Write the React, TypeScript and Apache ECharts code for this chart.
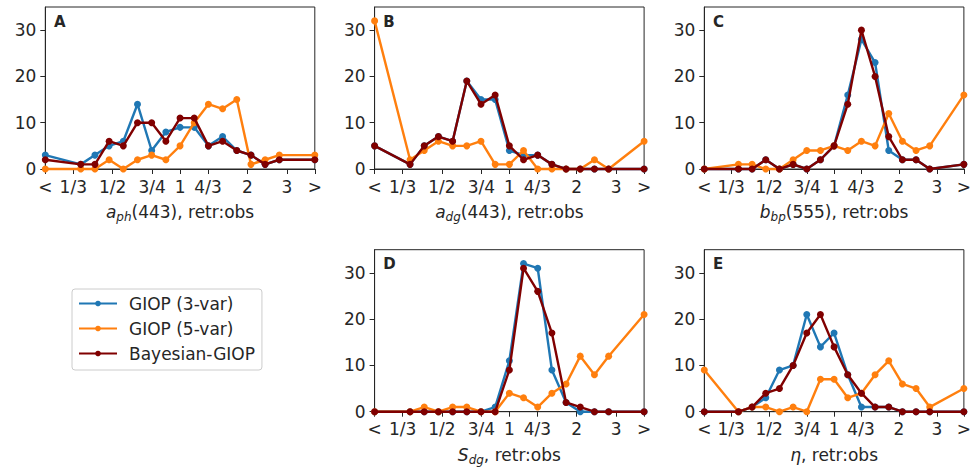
import React, { useEffect, useRef } from 'react';
import * as echarts from 'echarts';

// x-axis ticks (ratio retrieved : observed) and their labels
const tickRatios = [1 / 4, 1 / 3, 1 / 2, 3 / 4, 1, 4 / 3, 2, 3, 4];
const tickLabels = ['<', '1/3', '1/2', '3/4', '1', '4/3', '2', '3', '>'];
// bin centres in units of ln(4)/9.5; the outer bins are "<" and ">"
const binIndex = [-9.5, -7, -6, -5, -4, -3, -2, -1, 0, 1, 2, 3, 4, 5, 6, 7, 9.5];
const yTicks = [0, 10, 20, 30];

const seriesNames = ['GIOP (3-var)', 'GIOP (5-var)', 'Bayesian-GIOP'];
const seriesColors = ['#1f77b4', '#ff7f0e', '#800000'];
const panelLetters = ['A', 'B', 'C', 'D', 'E'];
const axisTitles = [
  '{i|a}{s|ph}{n|(443), retr:obs}',
  '{i|a}{s|dg}{n|(443), retr:obs}',
  '{i|b}{s|bp}{n|(555), retr:obs}',
  '{i|S}{s|dg}{n|, retr:obs}',
  '{i|η}{n|, retr:obs}',
];

// Panel A: a_ph(443)
const aphGiop3 = [3, 1, 3, 5, 6, 14, 4, 8, 9, 9, 5, 7, 4, 3, 1, 2, 2];
const aphGiop5 = [0, 0, 0, 2, 0, 2, 3, 2, 5, 10, 14, 13, 15, 1, 2, 3, 3];
const aphBayes = [2, 1, 1, 6, 5, 10, 10, 6, 11, 11, 5, 6, 4, 3, 1, 2, 2];
// Panel B: a_dg(443)
const adgGiop3 = [5, 1, 5, 7, 6, 19, 15, 15, 4, 3, 3, 1, 0, 0, 0, 0, 0];
const adgGiop5 = [32, 2, 4, 6, 5, 5, 6, 1, 1, 4, 0, 0, 0, 0, 2, 0, 6];
const adgBayes = [5, 1, 5, 7, 6, 19, 14, 16, 5, 2, 3, 1, 0, 0, 0, 0, 0];
// Panel C: b_bp(555)
const bbpGiop3 = [0, 0, 0, 2, 0, 1, 0, 2, 5, 16, 28, 23, 4, 2, 2, 0, 1];
const bbpGiop5 = [0, 1, 1, 0, 0, 2, 4, 4, 5, 4, 6, 5, 12, 6, 4, 5, 16];
const bbpBayes = [0, 0, 0, 2, 0, 1, 0, 2, 5, 14, 30, 20, 7, 2, 2, 0, 1];
// Panel D: S_dg
const sdgGiop3 = [0, 0, 0, 0, 0, 0, 0, 1, 11, 32, 31, 9, 2, 0, 0, 0, 0];
const sdgGiop5 = [0, 0, 1, 0, 1, 1, 0, 0, 4, 3, 1, 4, 6, 12, 8, 12, 21];
const sdgBayes = [0, 0, 0, 0, 0, 0, 0, 0, 9, 31, 26, 17, 2, 1, 0, 0, 0];
// Panel E: eta
const etaGiop3 = [0, 0, 1, 3, 9, 10, 21, 14, 17, 8, 1, 1, 1, 0, 0, 0, 0];
const etaGiop5 = [9, 0, 1, 1, 0, 1, 0, 7, 7, 3, 4, 8, 11, 6, 5, 1, 5];
const etaBayes = [0, 0, 1, 4, 5, 10, 17, 21, 14, 8, 4, 1, 1, 0, 0, 0, 0];

const panelData = [
  [aphGiop3, aphGiop5, aphBayes],
  [adgGiop3, adgGiop5, adgBayes],
  [bbpGiop3, bbpGiop5, bbpBayes],
  [sdgGiop3, sdgGiop5, sdgBayes],
  [etaGiop3, etaGiop5, etaBayes],
];

// layout (px)
const grids = [
  { left: 45.3, top: 7, width: 269.5, height: 162 },
  { left: 374.6, top: 7, width: 269.5, height: 162 },
  { left: 704.3, top: 7, width: 269.5, height: 162 },
  { left: 374.6, top: 249.7, width: 269.5, height: 162 },
  { left: 704.3, top: 249.7, width: 269.5, height: 162 },
];

const TEXT = '#262626';
const FONT = 'DejaVu Sans';

export default function App() {
  const ref = useRef<HTMLDivElement>(null);
  useEffect(() => {
    if (!ref.current) return;
    const chart = echarts.init(ref.current, undefined, { renderer: 'svg' });
    const LN4 = Math.log(4);
    const xs = binIndex.map((k) => (k * LN4) / 9.5);
    const tickVals = tickRatios.map((r) => Math.log(r));
    const fmt = (v: number) => {
      const i = tickVals.findIndex((t) => Math.abs(t - v) < 1e-6);
      return i >= 0 ? tickLabels[i] : '';
    };

    const xAxis = grids.map((_, gi) => ({
      type: 'value',
      gridIndex: gi,
      min: Math.log(1 / 4),
      max: Math.log(4),
      name: axisTitles[gi],
      nameLocation: 'middle',
      nameGap: 32,
      nameTextStyle: {
        color: TEXT,
        fontFamily: FONT,
        rich: {
          i: { fontStyle: 'italic', fontSize: 17, lineHeight: 22, color: TEXT, fontFamily: FONT },
          s: { fontStyle: 'italic', fontSize: 12, lineHeight: 12, verticalAlign: 'bottom', color: TEXT, fontFamily: FONT },
          n: { fontSize: 17, lineHeight: 22, color: TEXT, fontFamily: FONT },
        },
      },
      splitLine: { show: false },
      axisLine: { show: true, onZero: false, lineStyle: { color: TEXT, width: 1 } },
      axisTick: { show: true, length: 5, customValues: tickVals, lineStyle: { color: TEXT, width: 1 } },
      axisLabel: {
        customValues: tickVals,
        formatter: fmt,
        fontSize: 17,
        color: TEXT,
        fontFamily: FONT,
        margin: 9,
      },
    }));

    const yAxis = grids.map((_, gi) => ({
      type: 'value',
      gridIndex: gi,
      min: 0,
      max: 35,
      splitLine: { show: false },
      axisLine: { show: true, onZero: false, lineStyle: { color: TEXT, width: 1 } },
      axisTick: { show: true, length: 5, customValues: yTicks, lineStyle: { color: TEXT, width: 1 } },
      axisLabel: { customValues: yTicks, fontSize: 17, color: TEXT, fontFamily: FONT, margin: 9 },
    }));

    const series: any[] = [];
    panelData.forEach((arrs, gi) => {
      arrs.forEach((vals, si) => {
        series.push({
          type: 'line',
          name: seriesNames[si],
          xAxisIndex: gi,
          yAxisIndex: gi,
          data: vals.map((v, i) => [xs[i], v]),
          symbol: 'circle',
          symbolSize: 7,
          showSymbol: true,
          clip: false,
          lineStyle: { width: 2.4, color: seriesColors[si] },
          itemStyle: { color: seriesColors[si] },
          emphasis: { disabled: true },
          z: 2 + si,
        });
      });
    });

    const title = grids.map((g, gi) => ({
      text: panelLetters[gi],
      left: g.left + 8.7,
      top: g.top + 7,
      padding: 0,
      textStyle: { fontSize: 15, fontWeight: 'bold', color: TEXT, fontFamily: FONT },
    }));

    chart.setOption({
      animation: false,
      textStyle: { fontFamily: FONT },
      title,
      grid: grids.map((g) => ({ ...g, show: true, borderColor: TEXT, borderWidth: 1, containLabel: false })),
      xAxis,
      yAxis,
      legend: {
        orient: 'vertical',
        left: 72,
        top: 289,
        data: seriesNames,
        selectedMode: false,
        itemWidth: 38,
        itemHeight: 7,
        itemGap: 8,
        padding: [6, 7, 8, 6],
        borderColor: '#cccccc',
        borderWidth: 1,
        borderRadius: 3,
        backgroundColor: '#ffffff',
        textStyle: { fontSize: 17, color: TEXT, fontFamily: FONT, lineHeight: 17, padding: [0, 0, 0, 7] },
      },
      series,
    });
    return () => chart.dispose();
  }, []);
  return <div ref={ref} style={{ position: 'absolute', left: 0, top: 0, width: 974, height: 471 }} />;
}
